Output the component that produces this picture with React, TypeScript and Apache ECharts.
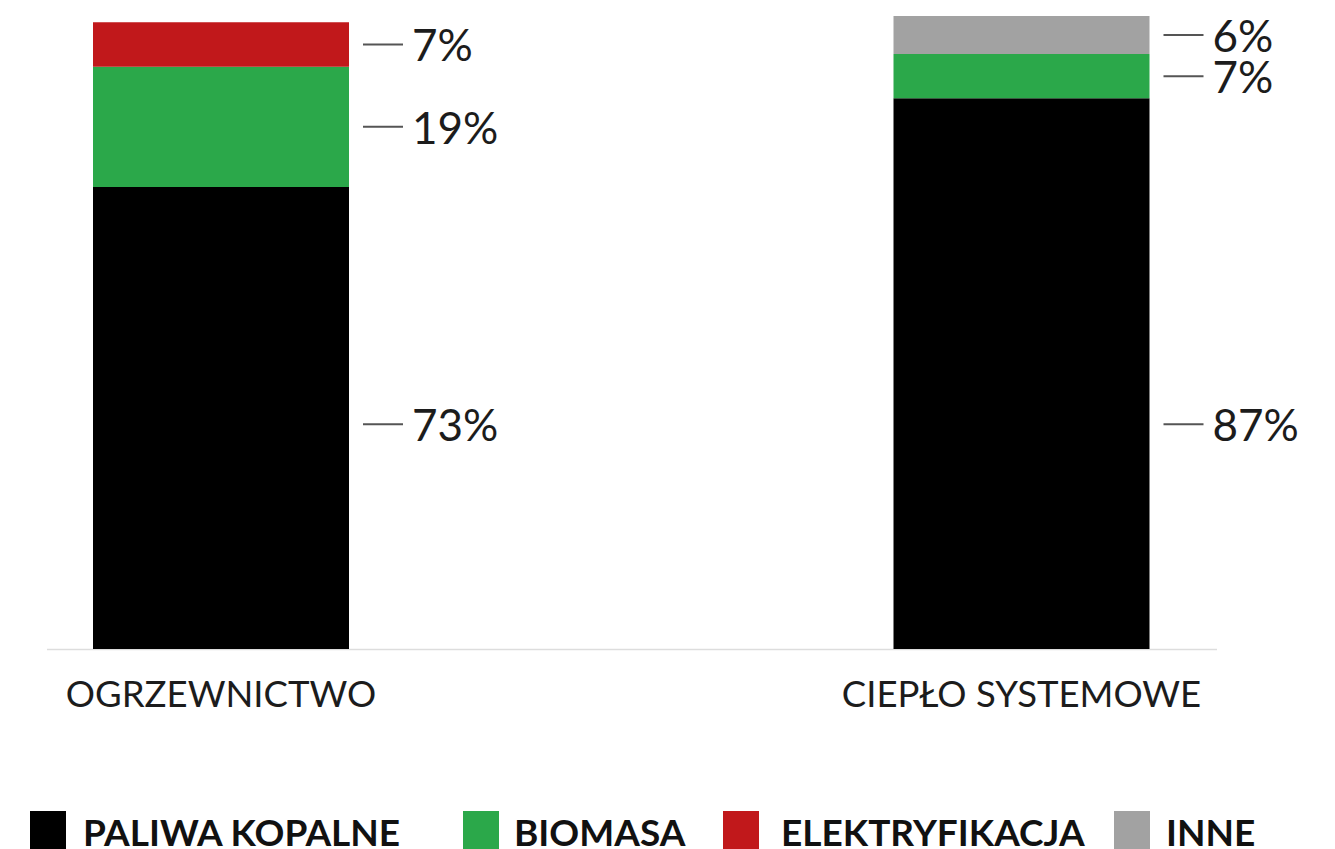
import { useEffect, useRef } from "react";
import * as echarts from "echarts";

const categories = ["OGRZEWNICTWO", "CIEPŁO SYSTEMOWE"];
const seriesNames = ["PALIWA KOPALNE", "BIOMASA", "ELEKTRYFIKACJA", "INNE"];
const fossil: (number | null)[] = [73, 87];
const biomass: (number | null)[] = [19, 7];
const electrification: (number | null)[] = [7, null];
const other: (number | null)[] = [null, 6];
const seriesColors = ["#000000", "#2ba84a", "#c1181b", "#a2a2a2"];
// value level at which the labels of the bottom segments are placed
const baseLabelLevel = 35.5;
const legendLefts = [30, 463, 723, 1114];
const legendTextGaps = [12, 10, 17, 11];

const FONT = "Lato, 'Noto Sans', sans-serif";

export default function App() {
  const ref = useRef<HTMLDivElement>(null);

  useEffect(() => {
    if (!ref.current) return;
    const chart = echarts.init(ref.current, undefined, { renderer: "svg" });

    const gridTop = 16;
    const gridBottomY = 649;
    const height = 849;

    const label = {
      show: true,
      position: "right" as const,
      distance: 14,
      formatter: (p: any) => `{d|}{v|${p.value}%}`,
      rich: {
        d: { width: 40, height: 2, backgroundColor: "#555" },
        v: {
          fontFamily: FONT,
          fontSize: 44,
          lineHeight: 32,
          color: "#1c1c1c",
          padding: [0, 0, 0, 9],
        },
      },
    };

    const dataArrays = [fossil, biomass, electrification, other];

    const series = dataArrays.map((arr, i) => ({
      name: seriesNames[i],
      type: "bar",
      stack: "total",
      barWidth: 256,
      itemStyle: { color: seriesColors[i] },
      data: arr.map((v) => (v == null ? "-" : v)),
      label,
      labelLayout:
        i === 0
          ? (params: any) => {
              const v = fossil[params.dataIndex] as number;
              const h = Math.abs(params.rect.height);
              const bottom = params.rect.y + h;
              return {
                y: bottom - (h / v) * baseLabelLevel,
                verticalAlign: "middle",
              };
            }
          : undefined,
    }));

    chart.setOption({
      animation: false,
      grid: {
        left: 221,
        right: 1335 - 1021.5,
        top: gridTop,
        bottom: height - gridBottomY,
      },
      xAxis: {
        type: "category",
        data: categories,
        boundaryGap: false,
        axisLine: { show: false },
        axisTick: { show: false },
        axisLabel: {
          fontFamily: FONT,
          fontSize: 36.5,
          color: "#1c1c1c",
          margin: 25,
        },
      },
      yAxis: {
        type: "value",
        min: 0,
        max: 100,
        show: false,
        splitLine: { show: false },
      },
      legend: seriesNames.map((name, i) => ({
        data: [name],
        left: legendLefts[i],
        top: 811,
        padding: 0,
        icon: "rect",
        itemWidth: 36,
        itemHeight: 40,
        selectedMode: false,
        textStyle: {
          fontFamily: FONT,
          fontWeight: "bold",
          fontSize: 37,
          lineHeight: 40,
          color: "#111",
          padding: [0, 0, 0, legendTextGaps[i]],
        },
      })),
      graphic: [
        {
          type: "line",
          shape: { x1: 47, y1: gridBottomY + 0.5, x2: 1217, y2: gridBottomY + 0.5 },
          style: { stroke: "#dddddd", lineWidth: 1.5 },
          z: 0,
        },
      ],
      series,
    });

    return () => chart.dispose();
  }, []);

  return (
    <div
      ref={ref}
      style={{ position: "fixed", left: 0, top: 0, width: 1335, height: 849, background: "#fff" }}
    />
  );
}
